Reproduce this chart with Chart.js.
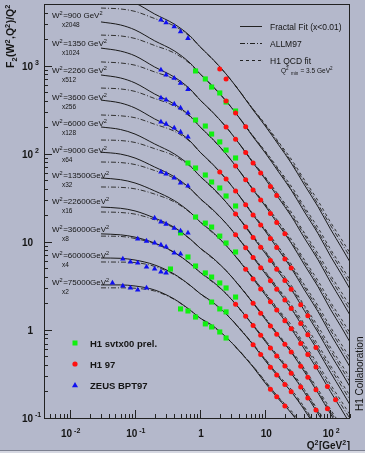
<!DOCTYPE html>
<html>
<head>
<meta charset="utf-8">
<script src="https://cdn.jsdelivr.net/npm/chart.js@4.4.1/dist/chart.umd.min.js"></script>
<style>
  html, body { margin: 0; padding: 0; background: #b4b8cb; overflow: hidden; }
  canvas { display: block; }
</style>
</head>
<body>
<canvas id="c" width="365" height="453" style="width:365px;height:453px"></canvas>
<script>
/* F2/Q2 vs Q2 in bins of W2 - H1 svtx00 / H1 97 / ZEUS BPT97 with fits */

// Q2 sampling of the three fit curves
const Q2_FRAC = [0.03,0.06,0.1,0.2,0.4,0.7,1,1.5,2.5,4,6.5,10,16,25,40,65,100,150,200];
const Q2_ALLM = [0.03,0.06,0.1,0.2,0.4,0.7,1,2.5,6.5,16,40,100,200];
const Q2_QCD  = [3.5,6.5,10,16,25,40,65,100,150,200];

// W2 bins (top curve has no label of its own)
const W2_BINS  = ["900","1350","2260","3600","6000","9000","13500","22600","36000","60000","75000"];
const W2_SCALE = ["x2048","x1024","x512","x256","x128","x64","x32","x16","x8","x4","x2"];

// Fractal fit (x<0.01), one row per curve, top to bottom
const FRACTAL = [
  [6320,5850,5140,3850,2960,2170,1630,1220,803,515,313,206,126,78.3,44.2,24.8,14.0,8.48,5.89],
  [3130,2890,2540,1910,1470,1070,803,603,397,255,155,102,62.1,38.7,21.8,12.3,6.90,4.20,2.91],
  [1580,1460,1290,964,741,542,406,305,201,129,78.3,51.5,31.4,19.6,11.0,6.21,3.49,2.12,1.47],
  [782,723,635,476,366,268,201,151,99.3,63.7,38.7,25.5,15.5,9.68,5.46,3.07,1.72,1.05,0.726],
  [406,376,330,248,191,139,104,78.3,51.6,33.1,20.1,13.2,8.07,5.04,2.84,1.60,0.901,0.546,0.379],
  [201,188,167,129,99.5,73.1,55.3,42.2,28.2,18.3,11.2,7.40,4.55,2.89,1.65,0.931,0.531,0.324,0.226],
  [104,98.9,89.3,70.6,54.8,40.4,30.9,23.9,16.2,10.6,6.62,4.36,2.72,1.75,1.01,0.575,0.331,0.202,0.141],
  [53.0,50.7,46.5,37.8,29.4,21.7,16.8,13.2,9.10,6.04,3.80,2.50,1.57,1.03,0.604,0.344,0.200,0.123,0.0865],
  [24.8,24.0,22.4,18.6,14.6,10.8,8.47,6.75,4.71,3.16,2.01,1.32,0.843,0.558,0.334,0.191,0.112,0.0695,0.0488],
  [12.3,12.0,11.3,9.68,7.60,5.66,4.50,3.63,2.58,1.75,1.12,0.740,0.476,0.321,0.195,0.111,0.0663,0.0411,0.0291],
  [6.55,6.49,6.21,5.46,4.30,3.21,2.58,2.11,1.52,1.04,0.679,0.447,0.291,0.199,0.123,0.0704,0.0424,0.0264,0.0187],
  [3.24,3.24,3.15,2.84,2.24,1.68,1.36,1.14,0.830,0.575,0.379,0.249,0.164,0.114,0.0711,0.0412,0.0250,0.0156,0.0112]
];

// ALLM97
const ALLM = [
  [4500,4390,4120,3420,2820,2130,1630,803,321,132,47.7,15.5,6.75],
  [2220,2170,2030,1690,1390,1050,803,396,159,65.1,23.5,7.69,3.33],
  [1100,1070,1010,847,702,532,406,201,80.5,33.0,12.0,3.88,1.68],
  [556,543,509,423,349,263,201,99.3,39.7,16.3,5.90,1.92,0.831],
  [275,269,256,216,180,137,104,51.6,20.6,8.49,3.07,0.997,0.433],
  [143,141,134,114,94.6,71.9,55.3,28.2,11.6,4.79,1.79,0.589,0.257],
  [80.5,79.3,75.3,64.4,52.7,39.8,30.9,16.2,6.80,2.86,1.09,0.367,0.161],
  [41.9,41.5,39.9,34.8,28.4,21.5,16.8,9.10,3.91,1.65,0.654,0.222,0.0984],
  [21.8,21.5,20.6,17.8,14.3,10.7,8.47,4.71,2.04,0.869,0.350,0.119,0.0528],
  [11.6,11.5,10.9,9.51,7.55,5.65,4.50,2.58,1.14,0.491,0.204,0.0705,0.0314],
  [5.90,5.88,5.81,5.26,4.23,3.19,2.58,1.52,0.691,0.300,0.128,0.0451,0.0203],
  [3.00,3.00,2.97,2.76,2.22,1.67,1.36,0.830,0.386,0.170,0.0746,0.0266,0.0120]
];

// H1 QCD fit, Q2min = 3.5 GeV2
const QCD = [
  [586,321,217,136,86.9,50.4,29.0,16.8,10.5,7.45],
  [289,158,107,67.1,42.9,24.9,14.3,8.29,5.18,3.68],
  [147,80.3,54.3,34.0,21.8,12.6,7.26,4.21,2.63,1.86],
  [72.4,39.7,26.8,16.8,10.7,6.23,3.58,2.08,1.30,0.921],
  [37.7,20.6,13.9,8.74,5.59,3.24,1.86,1.08,0.675,0.479],
  [20.7,11.5,7.80,4.92,3.21,1.88,1.09,0.637,0.399,0.285],
  [12.0,6.79,4.59,2.94,1.94,1.16,0.671,0.396,0.249,0.179],
  [6.81,3.90,2.64,1.70,1.14,0.690,0.403,0.241,0.152,0.109],
  [3.54,2.04,1.36,0.883,0.594,0.361,0.210,0.126,0.0787,0.0561],
  [1.95,1.14,0.764,0.499,0.341,0.210,0.122,0.0740,0.0466,0.0334],
  [1.16,0.690,0.461,0.305,0.212,0.132,0.0774,0.0473,0.0299,0.0215],
  [0.640,0.385,0.257,0.172,0.121,0.0769,0.0445,0.0279,0.0177,0.0128]
];

// ZEUS BPT97
const ZEUS_Q2 = [
  0.25,0.3,0.4,0.5,0.65,  0.25,0.3,0.4,0.5,0.65,  0.25,0.3,0.4,0.5,0.65,
  0.25,0.3,0.4,0.5,0.65,  0.25,0.3,0.4,0.5,0.65,  0.2,0.25,0.3,0.4,0.5,0.65,
  0.11,0.15,0.2,0.25,0.3,0.4,0.5,  0.065,0.085,0.11,0.15,0.2,0.25,0.3,
  0.045,0.065,0.085,0.11,0.15
];
const ZEUS_F = [
  3300,3070,2770,2430,2040,  891,782,718,630,538,  429,407,366,330,290,
  229,217,196,176,155,  62.0,58.8,53.0,46.5,43.0,  18.6,16.8,15.9,14.3,13.3,12.6,
  10.8,10.2,9.69,9.20,8.73,7.46,7.27,  6.38,5.90,5.75,5.18,4.91,4.54,4.43,
  3.41,3.15,2.99,2.84,2.99
];

// H1 svtx00 prel.
const SVTX_Q2 = [
  0.85,1.2,1.5,2,2.5,3.5,  0.85,1.2,1.5,2,2.5,3.5,  0.65,0.85,1.2,1.5,2,2.5,3.5,
  0.85,1.2,1.5,2,2.5,3.5,  0.5,  0.65,0.85,1.2,1.5,2,2.5,3.5,  0.35,1.5,2,2.5,
  0.5,0.65,0.85,1.2,1.5,2,2.5
];
const SVTX_F = [
  869,705,571,489,386,305,  241,206,167,136,110,89.4,  78.4,68.8,57.3,47.7,40.8,33.1,25.5,
  19.1,16.3,14.7,11.6,9.69,7.66,  12.6,  6.72,5.31,4.43,3.98,3.41,2.99,2.36,  4.91,2.07,1.73,1.60,
  1.73,1.64,1.40,1.17,1.08,0.947,0.809
];

// H1 97
const H197_Q2 = [
  2,2.5,
  2.5,3.5,5,
  2.5,3.5,5,6.5,8.5,12,15,
  3.5,5,6.5,8.5,12,15,20,
  2,2.5,3.5,5,6.5,8.5,12,15,20,25,
  3.5,5,6.5,8.5,12,15,20,25,35,45,
  3.5,5,6.5,8.5,12,15,20,25,35,45,60,
  5,6.5,8.5,12,15,20,25,35,45,60,90,120,
  6.5,8.5,12,15,20,25,35,45,60,90,
  3.5,5,6.5,8.5,12,15,20,25,35,45,60,
  6.5,8.5,12,15,20,25,
  12,15,20
];
const H197_F = [
  915,705,
  396,289,202,
  201,146,103,78.4,60.4,42.5,33.6,
  72.3,50.7,38.7,29.8,21.0,16.6,12.3,
  62.0,51.6,37.6,26.4,20.1,15.5,10.9,8.63,6.38,5.05,
  20.7,14.7,11.2,8.67,6.14,4.88,3.63,2.89,1.93,1.45,
  12.0,8.55,6.62,5.09,3.61,2.90,2.18,1.75,1.18,0.882,0.631,
  4.88,3.79,2.92,2.08,1.68,1.27,1.03,0.702,0.527,0.378,0.228,0.161,
  2.01,1.55,1.11,0.895,0.687,0.560,0.387,0.291,0.209,0.127,
  1.95,1.43,1.12,0.867,0.624,0.506,0.390,0.321,0.225,0.169,0.123,
  0.679,0.524,0.377,0.308,0.240,0.199,
  0.212,0.174,0.137
];

const BG = "#b4b8cb", INK = "#151515";
const C_SVTX = "#10f010", C_H197 = "#ff1010", C_ZEUS = "#1010f0";
const DASH_ALLM = [5, 2, 1, 2], DASH_QCD = [3, 3];
const FONT = "'Liberation Sans', Arial, Helvetica, sans-serif";

function pts(q, f){ return q.map((v, i) => ({ x: v, y: f[i] })); }

// text with ^ / _ pieces: parts = [[text, 0|1|-1], ...]
function rich(ctx, parts, x, y, size, bold, measureOnly){
  let cx = x;
  for (const [t, k] of parts) {
    const fs = k ? size * 0.7 : size;
    ctx.font = (bold ? "bold " : "") + fs + "px " + FONT;
    const dy = k === 1 ? -size * 0.42 : (k === -1 ? size * 0.28 : 0);
    if (!measureOnly) ctx.fillText(t, cx, y + dy);
    cx += ctx.measureText(t).width + (k ? 0.5 : 0);
  }
  return cx - x;
}

const decorations = {
  id: "decorations",
  beforeDraw(chart){
    const ctx = chart.ctx;
    ctx.save();
    ctx.fillStyle = BG;
    ctx.fillRect(0, 0, chart.width, chart.height);
    ctx.restore();
  },
  afterDraw(chart){
    const { ctx, chartArea: a, scales: { x, y } } = chart;
    ctx.save();
    ctx.fillStyle = INK; ctx.strokeStyle = "#222"; ctx.lineWidth = 1;
    ctx.textBaseline = "alphabetic";

    // frame
    ctx.strokeRect(a.left + 0.5, a.top + 0.5, a.right - a.left - 1, a.bottom - a.top);

    // ticks (drawn inward, ROOT style)
    ctx.beginPath();
    for (let e = -3; e <= 2; e++) for (let m = 1; m <= 9; m++) {
      const v = m * Math.pow(10, e);
      if (v < x.min * 0.999 || v > x.max * 1.001) continue;
      const px = Math.round(x.getPixelForValue(v)) + 0.5;
      ctx.moveTo(px, a.bottom); ctx.lineTo(px, a.bottom - (m === 1 ? 8 : 4));
    }
    for (let e = -1; e <= 3; e++) for (let m = 1; m <= 9; m++) {
      const v = m * Math.pow(10, e);
      if (v < y.min * 0.999 || v > y.max * 1.001) continue;
      const py = Math.round(y.getPixelForValue(v)) + 0.5;
      ctx.moveTo(a.left, py); ctx.lineTo(a.left + (m === 1 ? 8 : 4), py);
    }
    ctx.stroke();

    // x tick labels
    const lab = (e) => e === 0 ? [["1", 0]] : e === 1 ? [["10", 0]] : [["10", 0], [" " + e, 1]];
    for (let e = -2; e <= 2; e++) {
      const px = x.getPixelForValue(Math.pow(10, e));
      const w = rich(ctx, lab(e), 0, 0, 10, true, true);
      rich(ctx, lab(e), px - w / 2 + 1, 437, 10, true);
    }
    // y tick labels
    for (let e = -1; e <= 3; e++) {
      const py = y.getPixelForValue(Math.pow(10, e)) + 4;
      ctx.font = "bold 10px " + FONT;
      ctx.textAlign = "right";
      ctx.fillText(e === 0 ? "1" : "10", 33, py);
      ctx.textAlign = "left";
      if (e !== 0 && e !== 1) { ctx.font = "bold 7px " + FONT; ctx.fillText(String(e), 35, py - 5); }
    }

    // axis titles
    const xt = [["Q", 0], ["2", 1], ["[GeV", 0], ["2", 1], ["]", 0]];
    const xw = rich(ctx, xt, 0, 0, 10, true, true);
    rich(ctx, xt, 350 - xw, 449, 10, true);

    ctx.save();
    ctx.translate(14, 68); ctx.rotate(-Math.PI / 2);
    rich(ctx, [["F", 0], ["2", -1], ["(W", 0], ["2", 1], [",Q", 0], ["2", 1], [")/Q", 0], ["2", 1]], 0, 0, 10.5, true);
    ctx.restore();

    ctx.save();
    ctx.translate(363, 411); ctx.rotate(-Math.PI / 2);
    ctx.font = "10px " + FONT;
    ctx.fillText("H1 Collaboration", 0, 0);
    ctx.restore();

    // W2 bin labels
    const LBL_Y = [15, 43, 70, 97, 123, 150, 175, 201, 229, 255, 282];
    W2_BINS.forEach((w, i) => {
      const gap = w.length > 4 ? "" : " ";
      rich(ctx, [["W", 0], ["2", 1], ["=" + w + gap + "GeV", 0], ["2", 1]], 52, LBL_Y[i] + 3, 8, false);
      ctx.font = "6.5px " + FONT;
      ctx.fillText(W2_SCALE[i], 62, LBL_Y[i] + 12);
    });

    // fit legend (top right)
    const fitLeg = [["Fractal Fit (x<0.01)", []], ["ALLM97", DASH_ALLM], ["H1 QCD fit", DASH_QCD]];
    fitLeg.forEach(([t, d], i) => {
      const ly = 26 + i * 17 + 0.5;
      ctx.setLineDash(d); ctx.strokeStyle = "#222";
      ctx.beginPath(); ctx.moveTo(240, ly); ctx.lineTo(262, ly); ctx.stroke();
      ctx.setLineDash([]);
      ctx.font = "8.5px " + FONT;
      ctx.fillText(t, 270, ly + 3);
    });
    rich(ctx, [["Q", 0], ["2", 1], [" ", 0], ["min", -1], [" = 3.5 GeV", 0], ["2", 1]], 281, 73, 6.5, false);

    // data legend (bottom left)
    const dataLeg = [["H1 svtx00 prel.", C_SVTX, "rect"], ["H1 97", C_H197, "circle"], ["ZEUS BPT97", C_ZEUS, "triangle"]];
    dataLeg.forEach(([t, c, s], i) => {
      const ly = 343 + i * 21;
      ctx.fillStyle = c;
      if (s === "rect") ctx.fillRect(72.5, ly - 2.5, 5, 5);
      else if (s === "circle") { ctx.beginPath(); ctx.arc(75, ly, 2.6, 0, Math.PI * 2); ctx.fill(); }
      else { ctx.beginPath(); ctx.moveTo(75, ly - 3); ctx.lineTo(78, ly + 2.2); ctx.lineTo(72, ly + 2.2); ctx.closePath(); ctx.fill(); }
      ctx.fillStyle = INK;
      ctx.font = "bold 9.5px " + FONT;
      ctx.fillText(t, 90, ly + 3.5);
    });

    // window edge at the bottom
    ctx.fillStyle = "#7c8090"; ctx.fillRect(0, 450, chart.width, 1);
    ctx.fillStyle = "#d6d8e2"; ctx.fillRect(0, 451, chart.width, 2);
    ctx.restore();
  }
};

const markers = (label, q, f, color, style, r) => ({
  label, data: pts(q, f), showLine: false, pointStyle: style, pointRadius: r,
  backgroundColor: color, borderColor: color, pointBorderWidth: 0
});
const curve = (q, f, dash, color) => ({
  data: pts(q, f), showLine: true, pointRadius: 0, borderColor: color, borderWidth: 1,
  borderDash: dash, cubicInterpolationMode: "monotone", fill: false
});

const datasets = [
  markers("ZEUS BPT97", ZEUS_Q2, ZEUS_F, C_ZEUS, "triangle", 3.2),
  markers("H1 97", H197_Q2, H197_F, C_H197, "circle", 2.5),
  markers("H1 svtx00 prel.", SVTX_Q2, SVTX_F, C_SVTX, "rect", 3.6),
  ...FRACTAL.map(r => curve(Q2_FRAC, r, [], "#1a1a1a")),
  ...ALLM.map(r => curve(Q2_ALLM, r, DASH_ALLM, "#333")),
  ...QCD.map(r => curve(Q2_QCD, r, DASH_QCD, "#333"))
];

new Chart(document.getElementById("c"), {
  type: "scatter",
  data: { datasets },
  options: {
    responsive: false, animation: false, devicePixelRatio: 1, events: [],
    layout: { padding: { left: 44, right: 15, top: 4, bottom: 35 } },
    plugins: { legend: { display: false }, tooltip: { enabled: false } },
    scales: {
      x: { type: "logarithmic", min: 0.004, max: 200, display: false },
      y: { type: "logarithmic", min: 0.1, max: 5000, display: false }
    }
  },
  plugins: [decorations]
});
</script>
</body>
</html>
